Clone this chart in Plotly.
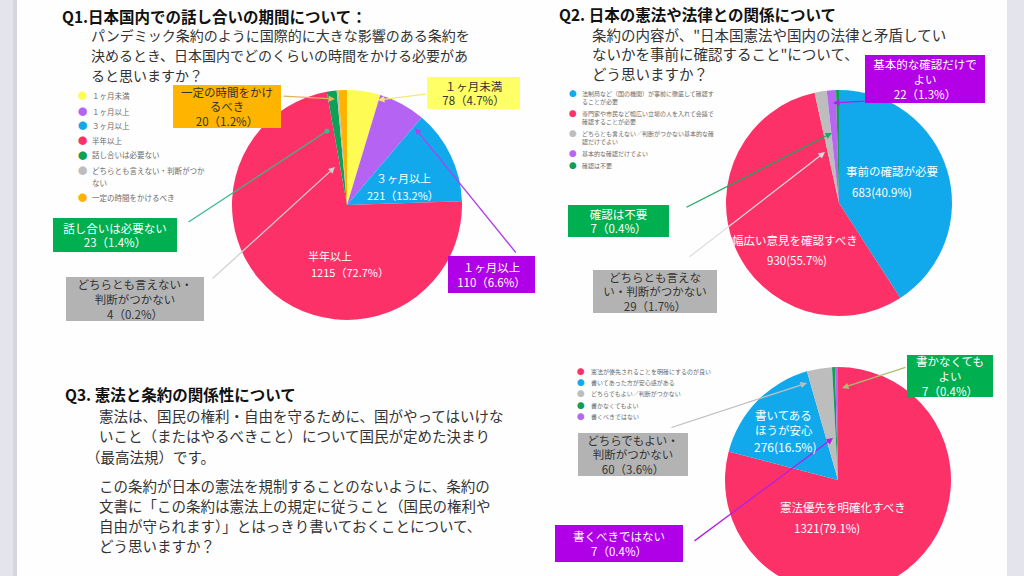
import plotly.graph_objects as go

W, H = 1024, 600
FONT = "Noto Sans CJK JP"


def px(x):
    return x / W


def py(y):
    return 1 - y / H


# ---------------- data ----------------
q1_labels = ["１ヶ月未満", "１ヶ月以上", "３ヶ月以上", "半年以上",
             "話し合いは必要ない", "どちらとも言えない・判断がつかない", "一定の時間をかけるべき"]
q1_values = [78, 110, 221, 1215, 23, 4, 20]
q1_colors = ["#fffb55", "#b463f2", "#12a9ec", "#fb3168", "#0f9f55", "#bdbdbd", "#ffb300"]
q1_legend = ["１ヶ月未満", "１ヶ月以上", "３ヶ月以上", "半年以上", "話し合いは必要ない",
             "どちらとも言えない・判断がつか<br>ない", "一定の時間をかけるべき"]
q1_names = ["１ヶ月未満", "１ヶ月以上", "３ヶ月以上", "半年以上", "話し合いは必要ない",
            "どちらとも言えない・<br>判断がつかない", "一定の時間をかけ<br>るべき"]

q2_labels = ["事前の確認が必要", "幅広い意見を確認すべき", "どちらとも言えない・判断がつかない",
             "基本的な確認だけでよい", "確認は不要"]
q2_values = [683, 930, 29, 22, 7]
q2_colors = ["#12a9ec", "#fb3168", "#bdbdbd", "#b866f2", "#0f9d58"]
q2_legend = ["法制局など（国の機関）が事前に徹底して確認す<br>ることが必要",
             "専門家や市民など幅広い立場の人を入れて会議で<br>確認することが必要",
             "どちらとも言えない／判断がつかない基本的な確<br>認だけでよい",
             "基本的な確認だけでよい",
             "確認は不要"]
q2_names = ["事前の確認が必要", "幅広い意見を確認すべき", "どちらとも言えな<br>い・判断がつかない",
            "基本的な確認だけで<br>よい", "確認は不要"]

q3_labels = ["憲法優先を明確化すべき", "書いてあるほうが安心", "どちらでもよい・判断がつかない",
             "書かなくてもよい", "書くべきではない"]
q3_values = [1321, 276, 60, 7, 7]
q3_colors = ["#fb3168", "#12a9ec", "#bdbdbd", "#0f9d58", "#b866f2"]
q3_legend = ["憲法が優先されることを明確にするのが良い", "書いてあった方が安心感がある",
             "どちらでもよい／判断がつかない", "書かなくてもよい", "書くべきではない"]
q3_names = ["憲法優先を明確化すべき", "書いてある<br>ほうが安心", "どちらでもよい・<br>判断がつかない",
            "書かなくても<br>よい", "書くべきではない"]

q1_title = "Q1.日本国内での話し合いの期間について："
q1_text = ["パンデミック条約のように国際的に大きな影響のある条約を",
           "決めるとき、日本国内でどのくらいの時間をかける必要があ",
           "ると思いますか？"]
q2_title = "Q2. 日本の憲法や法律との関係について"
q2_text = ["条約の内容が、\"日本国憲法や国内の法律と矛盾してい",
           "ないかを事前に確認すること\"について、",
           "どう思いますか？"]
q3_title = "Q3. 憲法と条約の関係性について"
q3_text = ["憲法は、国民の権利・自由を守るために、国がやってはいけな",
           "いこと（またはやるべきこと）について国民が定めた決まり",
           "（最高法規）です。",
           "",
           "この条約が日本の憲法を規制することのないように、条約の",
           "文書に「この条約は憲法上の規定に従うこと（国民の権利や",
           "自由が守られます）」とはっきり書いておくことについて、",
           "どう思いますか？"]


def pct(values, i):
    return f"{values[i] / sum(values) * 100:.1f}"


fig = go.Figure()
ann = []
shapes = []


def add_text(x, y, text, size, color, xanchor="center", bold=False, align="center"):
    if bold:
        text = f"<b>{text}</b>"
    ann.append(dict(x=px(x), y=py(y), xref="paper", yref="paper", text=text,
                    showarrow=False, xanchor=xanchor, yanchor="middle", align=align,
                    font=dict(family=FONT, size=size, color=color)))


def add_lines(x, y0, text, lh, size, color, xanchor="left"):
    for k, line in enumerate(text.split("<br>")):
        if line:
            add_text(x, y0 + k * lh, line, size, color, xanchor=xanchor, align="left")


def add_pie(values, labels, colors, cx, cy, r):
    fig.add_trace(go.Pie(
        values=values, labels=labels, sort=False, direction="clockwise", rotation=0,
        marker=dict(colors=colors, line=dict(width=0)), textinfo="none",
        showlegend=False, hoverinfo="label+value+percent",
        domain=dict(x=[px(cx - r), px(cx + r)], y=[py(cy + r), py(cy - r)])))


def add_legend(colors, labels, dot_x, text_x, ys, size, lh):
    for c, lab, y in zip(colors, labels, ys):
        add_text(dot_x, y, "●", size * 1.25, c)
        add_lines(text_x, y, lab, lh, size, "#6a6a6a")


def add_box(text, cx, cy, w, h, bg, fc, size, tail, head, ac, ah=2):
    ann.append(dict(x=px(head[0]), y=py(head[1]), xref="paper", yref="paper", text="",
                    showarrow=True, ax=tail[0] - head[0], ay=tail[1] - head[1],
                    arrowhead=ah, arrowsize=1, arrowwidth=1.3, arrowcolor=ac, standoff=0))
    ann.append(dict(x=px(cx), y=py(cy), xref="paper", yref="paper", text=text,
                    showarrow=False, xanchor="center", yanchor="middle", align="center",
                    width=w, height=h, bgcolor=bg, borderpad=0, borderwidth=0,
                    font=dict(family=FONT, size=size, color=fc)))


# ---------------- page background ----------------
shapes.append(dict(type="rect", xref="paper", yref="paper", x0=0, x1=px(17), y0=0, y1=1,
                   fillcolor="#e4e4ec", line=dict(width=0), layer="below"))
shapes.append(dict(type="rect", xref="paper", yref="paper", x0=px(13), x1=px(17), y0=0, y1=1,
                   fillcolor="#d6d6e0", line=dict(width=0), layer="below"))
shapes.append(dict(type="rect", xref="paper", yref="paper", x0=px(1007), x1=1, y0=0, y1=1,
                   fillcolor="#e4e4ec", line=dict(width=0), layer="below"))

# ---------------- Q1 ----------------
add_text(60, 15.5, q1_title, 15.5, "#111", xanchor="left", bold=True)
for k, line in enumerate(q1_text):
    add_text(89, 35 + k * 20.2, line, 14, "#333", xanchor="left")
add_pie(q1_values, q1_labels, q1_colors, 347, 205, 115)
add_legend(q1_colors, q1_legend, 82, 90, [95, 111, 125, 140, 155, 170, 197], 7.5, 12)

q1_boxes = [
    (0, 473.5, 93, 93, 32, "#ffff66", "#333", (427, 94), (378, 100), "#f0ea6e", 2),
    (1, 491.5, 274.5, 87, 37, "#b000e8", "white", (517, 254), (415, 128), "#b040f0", 2),
    (4, 115, 235, 124, 34, "#00b050", "white", (187, 223), (327, 131), "#3cb88a", 6),
    (5, 135, 299, 138, 44, "#b3b3b3", "#333", (211, 280), (335, 167), "#cfcfcf", 2),
    (6, 226.5, 106.5, 108, 43, "#ffb400", "#333", (282, 96), (335, 99), "#e3b25c", 2),
]
for i, cx, cy, w, h, bg, fc, tail, head, ac, ah in q1_boxes:
    txt = f"{q1_names[i]}<br>{q1_values[i]}（{pct(q1_values, i)}%）"
    add_box(txt, cx, cy, w, h, bg, fc, 11.5, tail, head, ac, ah)

q1_inside = [(2, (403, 178), (403, 195)), (3, (330, 256), (350, 272))]
for i, npos, vpos in q1_inside:
    add_text(npos[0], npos[1], q1_names[i], 11, "white")
    add_text(vpos[0], vpos[1], f"{q1_values[i]}（{pct(q1_values, i)}%）", 11, "white")

# ---------------- Q2 ----------------
add_text(557, 14, q2_title, 15.5, "#111", xanchor="left", bold=True)
for k, line in enumerate(q2_text):
    add_text(590, 34.5 + k * 19.5, line, 14.5, "#333", xanchor="left")
add_pie(q2_values, q2_labels, q2_colors, 839, 203, 113)
add_legend(q2_colors, q2_legend, 573, 580, [93, 113, 133, 153, 165], 6, 8.5)

q2_boxes = [
    (3, 925, 79, 120, 48, "#b400e6", "white", (866, 101), (833, 103), "#b020e8", 2),
    (4, 618.5, 221, 101, 32, "#00b050", "white", (685, 208), (832, 133), "#1fa860", 2),
    (2, 655, 291.5, 124, 43, "#b3b3b3", "#333", (688, 258), (825, 152), "#dedede", 2),
]
for i, cx, cy, w, h, bg, fc, tail, head, ac, ah in q2_boxes:
    txt = f"{q2_names[i]}<br>{q2_values[i]}（{pct(q2_values, i)}%）"
    add_box(txt, cx, cy, w, h, bg, fc, 11.5, tail, head, ac, ah)

q2_inside = [(0, (892, 171), (882, 192)), (1, (795, 240), (797, 260))]
for i, npos, vpos in q2_inside:
    add_text(npos[0], npos[1], q2_names[i], 11.5, "white")
    add_text(vpos[0], vpos[1], f"{q2_values[i]}({pct(q2_values, i)}%)", 11.5, "white")

# ---------------- Q3 ----------------
add_text(63, 394, q3_title, 15.5, "#111", xanchor="left", bold=True)
q3_x = [97, 97, 84, 97, 97, 97, 97, 97]
for k, line in enumerate(q3_text):
    if line:
        y = 415 + k * 20.5 if k < 3 else 485 + (k - 4) * 20
        add_text(q3_x[k], y, line, 14.5, "#333", xanchor="left")
add_pie(q3_values, q3_labels, q3_colors, 838, 480, 113)
add_legend(q3_colors, q3_legend, 581, 589, [371, 382, 393, 405, 416], 6, 8.5)

q3_boxes = [
    (3, 950, 376, 86, 42, "#00b050", "white", (907, 367), (842, 388), "#a8c070", 2),
    (2, 633, 454.5, 110, 43, "#b3b3b3", "#333", (670, 428), (807, 383), "#bdbdbd", 2),
    (4, 619, 543.5, 128, 37, "#b000e8", "white", (693, 542), (833, 438), "#b020e8", 2),
]
for i, cx, cy, w, h, bg, fc, tail, head, ac, ah in q3_boxes:
    txt = f"{q3_names[i]}<br>{q3_values[i]}（{pct(q3_values, i)}%）"
    add_box(txt, cx, cy, w, h, bg, fc, 11.5, tail, head, ac, ah)

add_text(753, 422, q3_names[1], 11.5, "white", xanchor="left", align="left")
add_text(785, 446, f"{q3_values[1]}({pct(q3_values, 1)}%)", 12, "white")
add_text(843, 507, q3_names[0], 11.5, "white")
add_text(827, 528, f"{q3_values[0]}({pct(q3_values, 0)}%)", 11.5, "white")

fig.update_layout(
    width=W, height=H, margin=dict(l=0, r=0, t=0, b=0),
    paper_bgcolor="#fefefe", plot_bgcolor="#fefefe",
    font=dict(family=FONT),
    annotations=ann, shapes=shapes, showlegend=False,
)

fig.write_html(
    "out.html",
    config={"displayModeBar": False},
    post_script="document.body.style.margin='0';document.body.style.overflow='hidden';"
                "document.documentElement.style.overflow='hidden';",
)
